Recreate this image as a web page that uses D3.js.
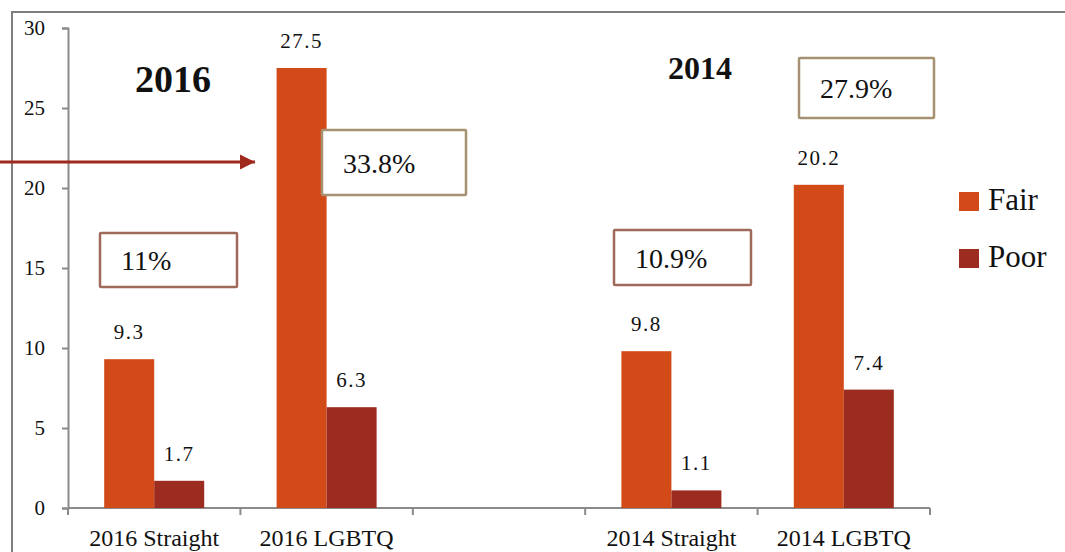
<!DOCTYPE html>
<html>
<head>
<meta charset="utf-8">
<script src="https://cdn.jsdelivr.net/npm/d3@7"></script>
<style>
  body { margin: 0; background: #fff; }
  text { font-family: "Liberation Serif", "DejaVu Serif", serif; fill: #111; }
</style>
</head>
<body>
<div id="chart"></div>
<script>
var svgWidth = 1065;
var svgHeight = 552;

// data
var categories = ["2016 Straight", "2016 LGBTQ", "gap", "2014 Straight", "2014 LGBTQ"];
var categoryLabels = ["2016 Straight", "2016 LGBTQ", "", "2014 Straight", "2014 LGBTQ"];
var seriesNames = ["Fair", "Poor"];
var fairValues = [9.3, 27.5, null, 9.8, 20.2];
var poorValues = [1.7, 6.3, null, 1.1, 7.4];
var yTicks = [0, 5, 10, 15, 20, 25, 30];
var yearLabels = ["2016", "2014"];
var boxLabels = ["11%", "33.8%", "10.9%", "27.9%"];

var colors = { Fair: "#d24a18", Poor: "#9c2b20" };
var serif = "Liberation Serif";

var plot = { left: 68, right: 930, top: 28, bottom: 508 };

var svg = d3.select("#chart")
    .append("svg")
    .attr("width", svgWidth)
    .attr("height", svgHeight);

// outer frame (only top and left edges visible)
svg.append("path")
    .attr("d", "M12," + svgHeight + "V12H" + svgWidth)
    .attr("fill", "none")
    .attr("stroke", "#7f7f7f")
    .attr("stroke-width", 2);

var x = d3.scaleBand()
    .domain(categories)
    .range([plot.left, plot.right])
    .padding(0);

var xInner = d3.scaleBand()
    .domain(seriesNames)
    .range([0, x.bandwidth()])
    .paddingInner(0)
    .paddingOuter(0.724);

var y = d3.scaleLinear()
    .domain([0, 30])
    .range([plot.bottom, plot.top]);

// y axis
var leftAxis = d3.axisLeft(y).tickValues(yTicks).tickSize(6).tickPadding(17);
var yAxisG = svg.append("g")
    .attr("transform", `translate(${plot.left},0)`)
    .call(leftAxis);
yAxisG.select(".domain").attr("stroke", "#8a8a8a").attr("stroke-width", 2);
yAxisG.selectAll(".tick line").attr("stroke", "#8a8a8a").attr("stroke-width", 2);
yAxisG.selectAll(".tick text")
    .attr("font-size", "21px")
    .attr("font-family", serif)
    .attr("fill", "#111");

// x axis line and boundary ticks
svg.append("line")
    .attr("x1", plot.left).attr("x2", plot.right)
    .attr("y1", y(0)).attr("y2", y(0))
    .attr("stroke", "#8a8a8a").attr("stroke-width", 2);

var bounds = categories.map(c => x(c)).concat([x(categories[categories.length - 1]) + x.bandwidth()]);
svg.append("g").selectAll("line")
    .data(bounds)
    .enter()
    .append("line")
    .attr("x1", d => d).attr("x2", d => d)
    .attr("y1", y(0)).attr("y2", y(0) + 7)
    .attr("stroke", "#8a8a8a").attr("stroke-width", 2);

svg.append("g").selectAll("text")
    .data(categories)
    .enter()
    .append("text")
    .attr("x", d => x(d) + x.bandwidth() / 2)
    .attr("y", 546)
    .attr("text-anchor", "middle")
    .attr("font-family", serif)
    .attr("font-size", "24px")
    .text((d, i) => categoryLabels[i]);

// bars
var rows = [];
categories.forEach(function(c, i) {
    if (fairValues[i] != null) rows.push({ cat: c, s: "Fair", v: fairValues[i] });
    if (poorValues[i] != null) rows.push({ cat: c, s: "Poor", v: poorValues[i] });
});

svg.append("g").selectAll("rect")
    .data(rows)
    .enter()
    .append("rect")
    .attr("x", d => x(d.cat) + xInner(d.s))
    .attr("width", xInner.bandwidth())
    .attr("y", d => y(d.v))
    .attr("height", d => y(0) - y(d.v))
    .attr("fill", d => colors[d.s]);

svg.append("g").selectAll("text")
    .data(rows)
    .enter()
    .append("text")
    .attr("x", d => x(d.cat) + xInner(d.s) + xInner.bandwidth() / 2)
    .attr("y", d => y(d.v) - 20)
    .attr("text-anchor", "middle")
    .attr("font-family", serif)
    .attr("font-size", "21px")
    .attr("letter-spacing", "1.5px")
    .text(d => d.v);

// year headings
var yearPos = [{ x: 173, y: 92, size: 38 }, { x: 700, y: 79, size: 32 }];
svg.append("g").selectAll("text")
    .data(yearLabels)
    .enter()
    .append("text")
    .attr("x", (d, i) => yearPos[i].x)
    .attr("y", (d, i) => yearPos[i].y)
    .attr("text-anchor", "middle")
    .attr("font-family", serif)
    .attr("font-size", (d, i) => yearPos[i].size + "px")
    .style("font-weight", "bold")
    .text(d => d);

// percentage boxes
var boxPos = [
    { x: 100, y: 233, w: 137, h: 54, stroke: "#a06a5a" },
    { x: 322, y: 130, w: 144, h: 65, stroke: "#a69272" },
    { x: 614, y: 230, w: 137, h: 55, stroke: "#a06a5a" },
    { x: 799, y: 58, w: 135, h: 60, stroke: "#a69272" }
];
var boxes = svg.append("g").selectAll("g")
    .data(boxLabels)
    .enter()
    .append("g")
    .attr("transform", (d, i) => `translate(${boxPos[i].x},${boxPos[i].y})`);

boxes.append("rect")
    .attr("width", (d, i) => boxPos[i].w)
    .attr("height", (d, i) => boxPos[i].h)
    .attr("fill", "#fff")
    .attr("stroke", (d, i) => boxPos[i].stroke)
    .attr("stroke-width", 2.5)
    .attr("rx", 1);

boxes.append("text")
    .attr("x", 21)
    .attr("y", (d, i) => boxPos[i].h / 2 + 10)
    .attr("font-family", serif)
    .attr("font-size", "28px")
    .text(d => d);

// arrow
var defs = svg.append("defs");
defs.append("marker")
    .attr("id", "arrowhead")
    .attr("viewBox", "0 0 10 10")
    .attr("refX", 10).attr("refY", 5)
    .attr("markerWidth", 5).attr("markerHeight", 5.5)
    .attr("markerUnits", "strokeWidth")
    .attr("orient", "auto")
    .append("path")
    .attr("d", "M0,0L10,5L0,10z")
    .attr("fill", "#a0291e");

svg.append("line")
    .attr("x1", 0).attr("x2", 255)
    .attr("y1", 162).attr("y2", 162)
    .attr("stroke", "#a0291e")
    .attr("stroke-width", 3)
    .attr("marker-end", "url(#arrowhead)");

// legend
var legend = svg.append("g").selectAll("g")
    .data(seriesNames)
    .enter()
    .append("g")
    .attr("transform", (d, i) => `translate(959,${192 + i * 57})`);

legend.append("rect")
    .attr("width", 20).attr("height", 19)
    .attr("fill", d => colors[d]);

legend.append("text")
    .attr("x", 29).attr("y", 18)
    .attr("font-family", serif)
    .attr("font-size", "31px")
    .text(d => d);
</script>
</body>
</html>
